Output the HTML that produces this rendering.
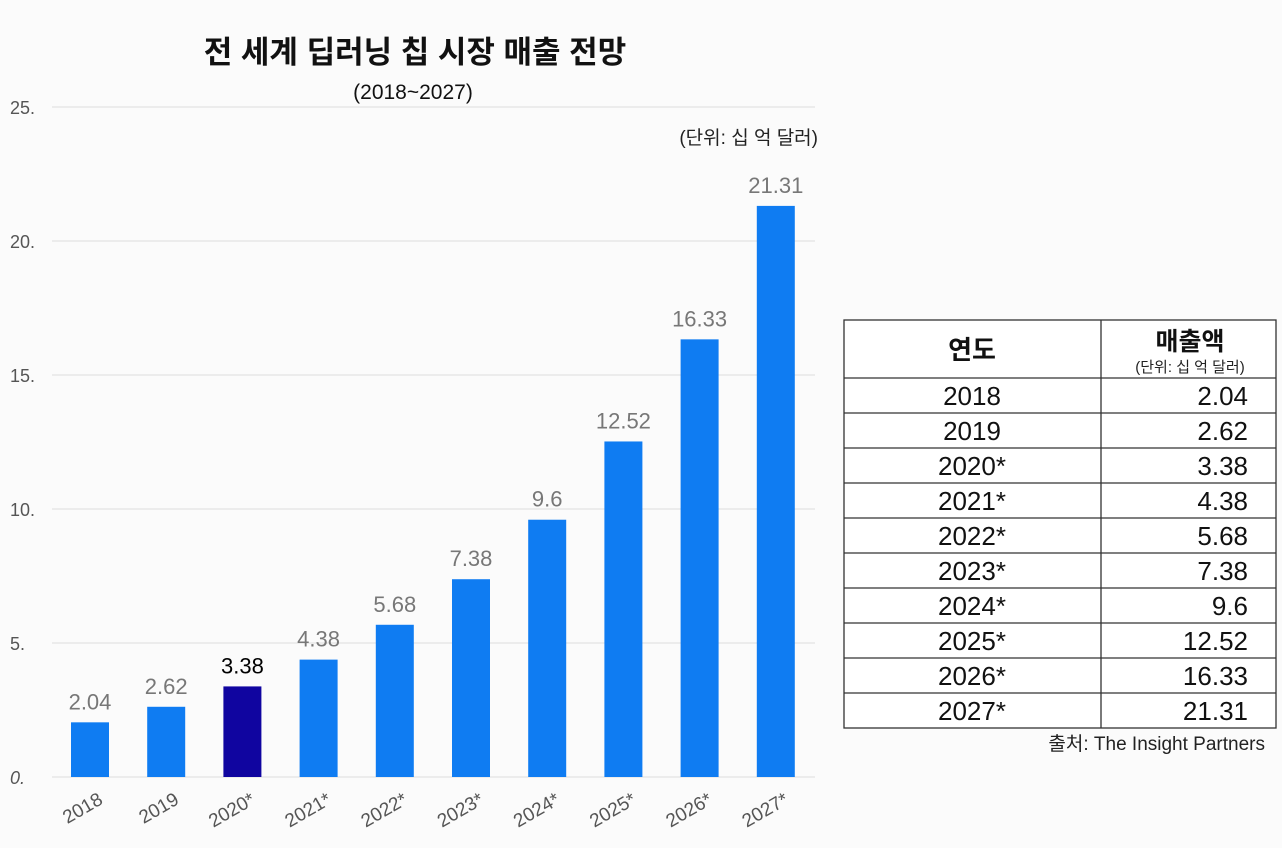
<!DOCTYPE html>
<html><head><meta charset="utf-8"><style>
body{margin:0;width:1282px;height:848px;background:#fbfbfb;overflow:hidden;font-family:"Liberation Sans","Noto Sans CJK KR",sans-serif;}
svg{position:absolute;left:0;top:0}
</style></head><body>
<svg width="1282" height="848">
<g id="chart"></g>
<g id="tbl"></g>
</svg>
<script>
const categories=["2018","2019","2020*","2021*","2022*","2023*","2024*","2025*","2026*","2027*"];
const values=[2.04,2.62,3.38,4.38,5.68,7.38,9.6,12.52,16.33,21.31];
const valueLabels=["2.04","2.62","3.38","4.38","5.68","7.38","9.6","12.52","16.33","21.31"];
const yTicks=[0,5,10,15,20,25];
const tableYears=["2018","2019","2020*","2021*","2022*","2023*","2024*","2025*","2026*","2027*"];
const NS="http://www.w3.org/2000/svg";
function y(v){return 777-v*26.8;}
function x(i){return 90+i*76.2;}
function el(t,a,p,txt){const e=document.createElementNS(NS,t);for(const k in a)e.setAttribute(k,a[k]);if(txt!==undefined)e.textContent=txt;p.appendChild(e);return e;}
const g=document.getElementById('chart');
let t=el('text',{x:415,y:63,'text-anchor':'middle','font-size':31,'font-weight':'bold',fill:'#111'},g,'전 세계 딥러닝 칩 시장 매출 전망');

t=el('text',{x:413,y:99,'text-anchor':'middle','font-size':21,fill:'#111'},g,'(2018~2027)');

t=el('text',{x:818,y:144,'text-anchor':'end','font-size':19,fill:'#222'},g,'(단위: 십 억 달러)');

yTicks.forEach(v=>{
 const l=el('line',{x1:52,x2:815,y1:y(v),y2:y(v),stroke:'#e2e2e2','stroke-width':1.2},g);
 
 const tx=el('text',{x:10,y:y(v)+7,'font-size':18,fill:'#555','font-style':v===0?'italic':'normal'},g,v+'.');
 
});
values.forEach((v,i)=>{
 const r=el('rect',{x:x(i)-19,y:y(v),width:38,height:y(0)-y(v),fill:i===2?'#1005a0':'#0f7cf2'},g);
 
 const lb=el('text',{x:x(i),y:y(v)-13,'text-anchor':'middle','font-size':22,fill:i===2?'#000':'#777'},g,valueLabels[i]);
 
 const cx=el('text',{x:x(i)+14,y:803,'text-anchor':'end','font-size':19,fill:'#555',transform:`rotate(-30 ${x(i)+14} 803)`},g,categories[i]);
 
});
const tb=document.getElementById('tbl');
const L=844,R=1276,M=1101,T=320,H=378,rh=35;
let b=el('rect',{x:L,y:T,width:R-L,height:H+rh*10-T,fill:'#fff',stroke:'#333','stroke-width':1.3},tb);

el('line',{x1:M,x2:M,y1:T,y2:H+rh*10,stroke:'#333','stroke-width':1.3},tb);
t=el('text',{x:972,y:359,'text-anchor':'middle','font-size':26,'font-weight':'bold',fill:'#111'},tb,'연도');

t=el('text',{x:1190,y:350,'text-anchor':'middle','font-size':25,'font-weight':'bold',fill:'#111'},tb,'매출액');

el('text',{x:1190,y:372,'text-anchor':'middle','font-size':15,fill:'#222'},tb,'(단위: 십 억 달러)');
tableYears.forEach((yr,i)=>{
 const top=H+rh*i;
 el('line',{x1:L,x2:R,y1:top,y2:top,stroke:'#333','stroke-width':1.3},tb);
 const a=el('text',{x:972,y:top+27,'text-anchor':'middle','font-size':26,fill:'#111'},tb,yr);
 
 const c=el('text',{x:1248,y:top+27,'text-anchor':'end','font-size':26,fill:'#111'},tb,valueLabels[i]);
 
});
t=el('text',{x:1265,y:750,'text-anchor':'end','font-size':19,fill:'#222'},tb,'출처: The Insight Partners');

</script>
</body></html>
